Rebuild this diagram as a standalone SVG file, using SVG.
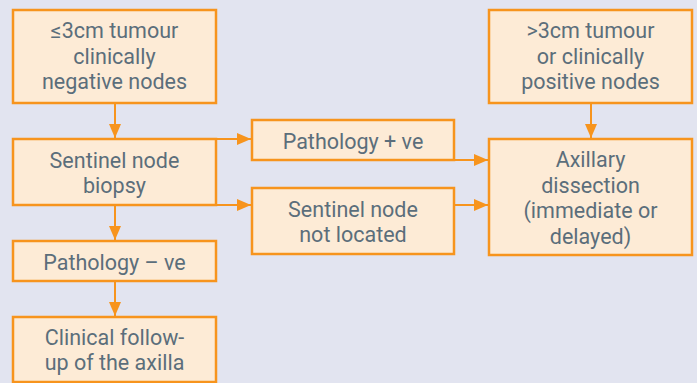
<svg xmlns="http://www.w3.org/2000/svg" width="697" height="383" viewBox="0 0 697 383">
<style>
.box{fill:#fdebd6;stroke:#f7941d;stroke-width:2.5}
.t{font-family:Roboto,"Open Sans","Liberation Sans",sans-serif;font-size:21.5px;fill:#5b6e7b;text-anchor:middle}
.c{stroke:#f7941d;stroke-width:2;fill:none;marker-end:url(#ah)}
</style>
<defs>
<marker id="ah" viewBox="0 0 14 12" refX="14" refY="6" markerWidth="14" markerHeight="12" markerUnits="userSpaceOnUse" orient="auto">
<path d="M0,0 L14,6 L0,12 Z" fill="#f7941d"/>
</marker>
</defs>
<rect width="697" height="383" fill="#e2e4f0"/>
<g id="connectors">
<line class="c" x1="115" y1="103" x2="115" y2="138"/>
<line class="c" x1="216" y1="139" x2="251" y2="139"/>
<line class="c" x1="216" y1="205" x2="251" y2="205"/>
<line class="c" x1="115" y1="205" x2="115" y2="240"/>
<line class="c" x1="115" y1="281" x2="115" y2="316"/>
<line class="c" x1="454" y1="160" x2="488" y2="160"/>
<line class="c" x1="454" y1="205" x2="488" y2="205"/>
<line class="c" x1="591" y1="103" x2="591" y2="138"/>
</g>
<g id="n1"><rect class="box" x="13" y="10" width="203" height="93"/>
<text class="t" x="114.5" y="38">≤3cm tumour</text><text class="t" x="114.5" y="63.5">clinically</text><text class="t" x="114.5" y="89">negative nodes</text></g>
<g id="n2"><rect class="box" x="13" y="139" width="203" height="66"/>
<text class="t" x="114.5" y="167.5">Sentinel node</text><text class="t" x="114.5" y="193">biopsy</text></g>
<g id="n3"><rect class="box" x="13" y="241" width="203" height="40"/>
<text class="t" x="114.5" y="270">Pathology – ve</text></g>
<g id="n4"><rect class="box" x="13" y="317" width="203" height="65"/>
<text class="t" x="114.5" y="344.5">Clinical follow-</text><text class="t" x="114.5" y="370">up of the axilla</text></g>
<g id="n5"><rect class="box" x="252" y="120" width="202" height="40"/>
<text class="t" x="353" y="149">Pathology + ve</text></g>
<g id="n6"><rect class="box" x="252" y="188" width="202" height="66"/>
<text class="t" x="353" y="216.5">Sentinel node</text><text class="t" x="353" y="242">not located</text></g>
<g id="n7"><rect class="box" x="489" y="10" width="203" height="93"/>
<text class="t" x="590.5" y="38">&gt;3cm tumour</text><text class="t" x="590.5" y="63.5">or clinically</text><text class="t" x="590.5" y="89">positive nodes</text></g>
<g id="n8"><rect class="box" x="489" y="139" width="203" height="116"/>
<text class="t" x="590.5" y="167">Axillary</text><text class="t" x="590.5" y="192.5">dissection</text><text class="t" x="590.5" y="218">(immediate or</text><text class="t" x="590.5" y="243.5">delayed)</text></g>
</svg>
